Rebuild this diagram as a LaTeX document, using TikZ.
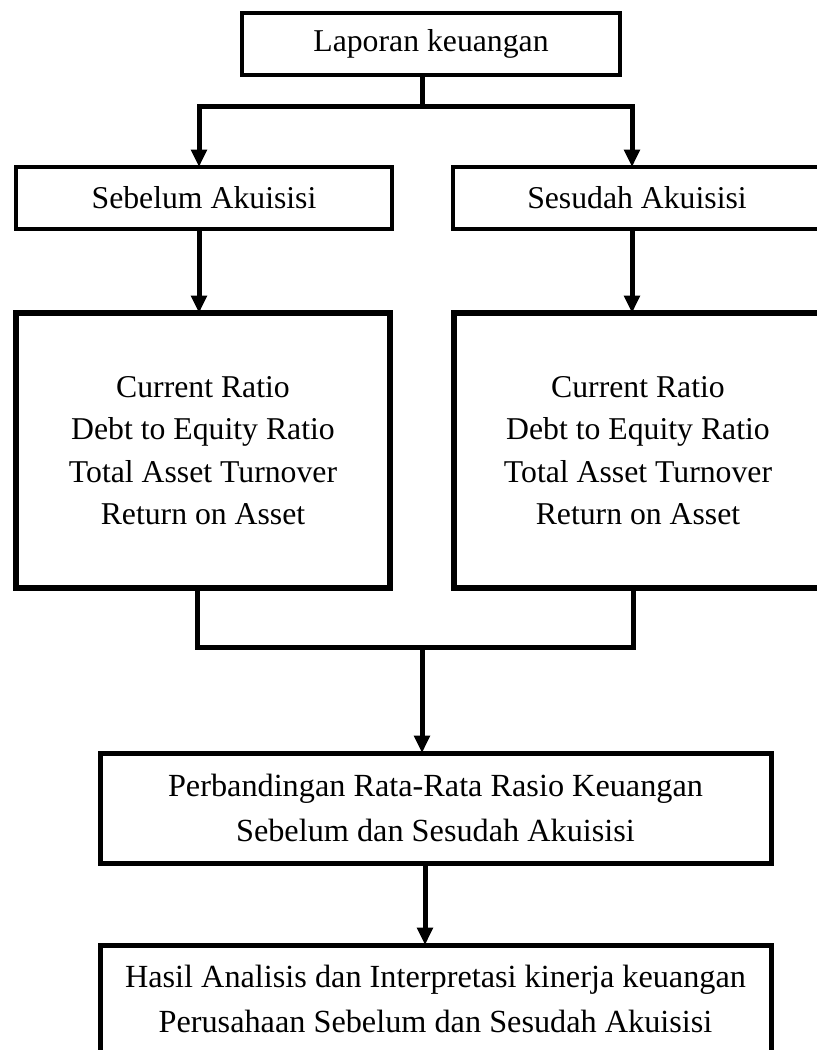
\documentclass[tikz,border=0pt]{standalone}
\usepackage{fontspec}
\setmainfont{Liberation Serif}
\usetikzlibrary{arrows.meta}
\begin{document}
\begin{tikzpicture}[x=0.75pt,y=-0.75pt,
  box/.style={draw,rectangle,inner sep=0pt,outer sep=0pt,align=center,
    font=\fontsize{23.8}{31.9}\selectfont},
  thinbox/.style={box,line width=3pt},
  thickbox/.style={box,line width=4.5pt},
  midbox/.style={box,line width=3.75pt,font=\fontsize{24.2}{33.5}\selectfont},
  conn/.style={line width=3.75pt},
  arr/.style={conn,-{Triangle[width=11.5pt,length=13pt]}}
]
\useasboundingbox (0,0) rectangle (817,1050);
\clip (0,0) rectangle (817,1050);

\node[thinbox,minimum width={378*0.75pt},minimum height={62*0.75pt}] (top) at (431,44) {Laporan keuangan};
\node[thinbox,minimum width={376*0.75pt},minimum height={62*0.75pt}] (sebelum) at (204,198) {Sebelum Akuisisi};
\node[thinbox,minimum width={368*0.75pt},minimum height={62*0.75pt}] (sesudah) at (637,198) {Sesudah Akuisisi};

\node[thickbox,minimum width={374*0.75pt},minimum height={275*0.75pt}] (ratioL) at (203,450.5)
  {Current Ratio\\Debt to Equity Ratio\\Total Asset Turnover\\Return on Asset};
\node[thickbox,minimum width={368*0.75pt},minimum height={275*0.75pt}] (ratioR) at (638,450.5)
  {Current Ratio\\Debt to Equity Ratio\\Total Asset Turnover\\Return on Asset};

\node[midbox,minimum width={671*0.75pt},minimum height={110*0.75pt}] (banding) at (435.5,808)
  {Perbandingan Rata-Rata Rasio Keuangan\\Sebelum dan Sesudah Akuisisi};
\node[midbox,minimum width={671*0.75pt},minimum height={108*0.75pt},anchor=north] (hasil) at (435.5,945)
  {Hasil Analisis dan Interpretasi kinerja keuangan\\Perusahaan Sebelum dan Sesudah Akuisisi};

% top split
\coordinate (j0) at (422,106);
\coordinate (jL) at (199,106);
\coordinate (jR) at (632,106);
\draw[conn] (top.south -| j0) -- (j0);
\draw[conn,line cap=rect] (jL) -- (jR);
\draw[arr] (jL) -- (sebelum.north -| jL);
\draw[arr] (jR) -- (sesudah.north -| jR);

% to ratio boxes
\draw[arr] (sebelum.south -| jL) -- (ratioL.north -| jL);
\draw[arr] (sesudah.south -| jR) -- (ratioR.north -| jR);

% merge
\coordinate (mL) at (197,647);
\coordinate (mR) at (633,647);
\coordinate (m0) at (422,647);
\draw[conn] (ratioL.south -| mL) -- (mL) -- (mR) -- (ratioR.south -| mR);
\draw[arr] (m0) -- (banding.north -| m0);

% to hasil
\coordinate (b0) at (425,863);
\draw[arr] (b0) -- (hasil.north -| b0);
\end{tikzpicture}
\end{document}
